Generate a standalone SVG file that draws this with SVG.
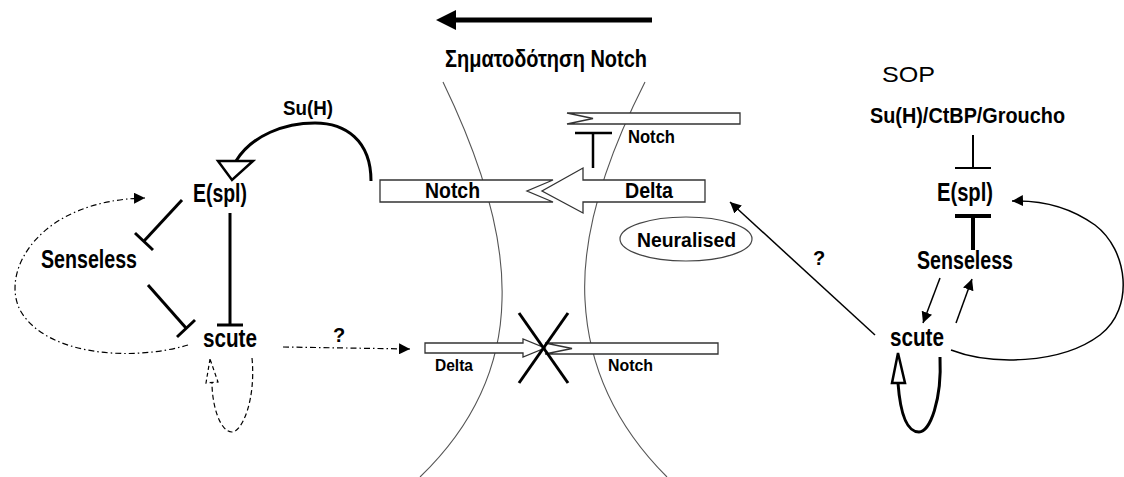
<svg xmlns="http://www.w3.org/2000/svg" width="1124" height="477" viewBox="0 0 1124 477">
<style>
.t{font-family:"Liberation Sans Narrow","Liberation Sans",Arial,sans-serif;font-weight:bold;fill:#000}
.r{font-family:"Liberation Sans",Arial,sans-serif;fill:#000}
.mem{fill:none;stroke:#555;stroke-width:1.1}
.box{fill:#fff;stroke:#333;stroke-width:1.3}
.inh{fill:none;stroke:#000;stroke-width:3}
.thin{fill:none;stroke:#000;stroke-width:1.5}
.dd{fill:none;stroke:#000;stroke-width:1.2;stroke-dasharray:6 3 1.5 3}
.ds{fill:none;stroke:#000;stroke-width:1.2;stroke-dasharray:5 3}
</style>
<defs>
<marker id="ah" viewBox="0 0 10 10" refX="10" refY="5" markerWidth="11" markerHeight="11" markerUnits="userSpaceOnUse" orient="auto"><path d="M0,0 L10,5 L0,10 z" fill="#000"/></marker>
</defs>
<rect width="1124" height="477" fill="#fff"/>

<g id="membranes">
<path class="mem" d="M443,82 Q505,210 502,300 Q500,400 420,477"/>
<path class="mem" d="M645,82 Q580,210 585,300 Q590,400 667,477"/>
</g>

<g id="signal-arrow">
<line x1="450" y1="20" x2="652" y2="20" stroke="#000" stroke-width="5"/>
<polygon points="436,20 456,10 456,30" fill="#000"/>
<text class="t" x="445" y="67" font-size="23" textLength="202" lengthAdjust="spacingAndGlyphs">Σηματοδότηση Notch</text>
</g>

<g id="sop-label"><text class="r" x="882" y="82" font-size="22" textLength="53" lengthAdjust="spacingAndGlyphs">SOP</text></g>

<g id="upper-notch">
<polygon class="box" points="567,113 740,113 740,124 567,124 593,118.5"/>
<text class="t" x="628" y="143" font-size="18" textLength="47" lengthAdjust="spacingAndGlyphs">Notch</text>
</g>

<g id="notch-main">
<polygon class="box" points="380,180 553,180 527,191 553,202 380,202"/>
<text class="t" x="425" y="198" font-size="22" textLength="55" lengthAdjust="spacingAndGlyphs">Notch</text>
</g>
<g id="delta-main">
<polygon class="box" points="705,180 583,180 583,168 542,191 583,213 583,202 705,202"/>
<text class="t" x="625" y="198" font-size="22" textLength="48" lengthAdjust="spacingAndGlyphs">Delta</text>
</g>

<g id="neuralised">
<ellipse cx="686" cy="239" rx="66" ry="22" fill="#fff" stroke="#444" stroke-width="1.2"/>
<text class="t" x="637" y="247" font-size="20" textLength="99" lengthAdjust="spacingAndGlyphs">Neuralised</text>
</g>

<g id="delta-bottom">
<polygon class="box" points="425,343 523,343 523,339 545,348 523,357 523,353 425,353"/>
<text class="t" x="435" y="371" font-size="17" textLength="38" lengthAdjust="spacingAndGlyphs">Delta</text>
</g>
<g id="notch-bottom">
<polygon class="box" points="545,343 718,343 718,354 545,354 572,348.5"/>
<text class="t" x="608" y="371" font-size="17" textLength="45" lengthAdjust="spacingAndGlyphs">Notch</text>
</g>
<g id="block-x">
<line x1="519" y1="313" x2="568" y2="383" stroke="#000" stroke-width="3"/>
<line x1="568" y1="313" x2="519" y2="383" stroke="#000" stroke-width="3"/>
</g>

<g id="left-nodes">
<text class="t" x="283" y="115" font-size="21" textLength="50" lengthAdjust="spacingAndGlyphs">Su(H)</text>
<text class="t" x="193" y="202" font-size="25" textLength="54" lengthAdjust="spacingAndGlyphs">E(spl)</text>
<text class="t" x="41" y="268" font-size="25" textLength="96" lengthAdjust="spacingAndGlyphs">Senseless</text>
<text class="t" x="203" y="347" font-size="25" textLength="54" lengthAdjust="spacingAndGlyphs">scute</text>
<text class="t" x="333" y="342" font-size="20">?</text>
</g>

<g id="right-nodes">
<text class="t" x="870" y="123" font-size="22" textLength="195" lengthAdjust="spacingAndGlyphs">Su(H)/CtBP/Groucho</text>
<text class="t" x="937" y="201" font-size="25" textLength="56" lengthAdjust="spacingAndGlyphs">E(spl)</text>
<text class="t" x="917" y="269" font-size="25" textLength="96" lengthAdjust="spacingAndGlyphs">Senseless</text>
<text class="t" x="890" y="346" font-size="25" textLength="54" lengthAdjust="spacingAndGlyphs">scute</text>
<text class="t" x="813" y="265" font-size="20">?</text>
</g>

<g id="connectors">
<path d="M371,181 C371,140 345,123 315,123 C285,123 252,135 236,161" fill="none" stroke="#000" stroke-width="3"/>
<polygon points="218,161 253,161 232,180" fill="#fff" stroke="#000" stroke-width="2.5"/>
<line class="inh" x1="182" y1="200" x2="144" y2="241"/>
<line class="inh" x1="135" y1="233" x2="153" y2="250"/>
<line class="inh" x1="148" y1="285" x2="186" y2="328"/>
<line class="inh" x1="177" y1="337" x2="195" y2="320"/>
<line class="inh" x1="230" y1="213" x2="230" y2="325"/>
<line class="inh" x1="217" y1="325" x2="243" y2="325"/>
<path class="dd" d="M188,345 C130,362 45,355 20,310 C0,270 40,200 145,198" marker-end="url(#ah)"/>
<path class="ds" d="M252,358 C256,400 242,432 232,432 C220,432 212,405 212,383"/>
<polygon points="210,359 206,383 218,382" fill="none" stroke="#000" stroke-width="1.2" stroke-dasharray="4 3"/>
<path class="dd" d="M283,347 L410,349" marker-end="url(#ah)"/>

<line x1="575" y1="133" x2="612" y2="133" stroke="#000" stroke-width="2.5"/>
<line x1="593" y1="133" x2="593" y2="168" stroke="#000" stroke-width="2.5"/>

<line x1="973" y1="135" x2="973" y2="168" stroke="#000" stroke-width="2"/>
<line x1="955" y1="168" x2="991" y2="168" stroke="#000" stroke-width="2"/>
<line x1="973" y1="216" x2="973" y2="250" stroke="#000" stroke-width="4"/>
<line x1="955" y1="216" x2="991" y2="216" stroke="#000" stroke-width="4"/>
<line class="thin" x1="940" y1="278" x2="923" y2="323" marker-end="url(#ah)"/>
<line class="thin" x1="956" y1="323" x2="972" y2="279" marker-end="url(#ah)"/>
<path class="thin" d="M951,350 C990,365 1060,365 1100,335 C1135,308 1128,250 1095,225 C1070,207 1040,200 1012,201" marker-end="url(#ah)"/>
<path d="M940,357 C942,400 930,432 919,432 C906,432 900,410 898,383" fill="none" stroke="#000" stroke-width="3"/>
<polygon points="898,353 892,383 905,383" fill="#fff" stroke="#000" stroke-width="2.5"/>
<line class="thin" x1="875" y1="335" x2="730" y2="202" marker-end="url(#ah)"/>
</g>
</svg>
